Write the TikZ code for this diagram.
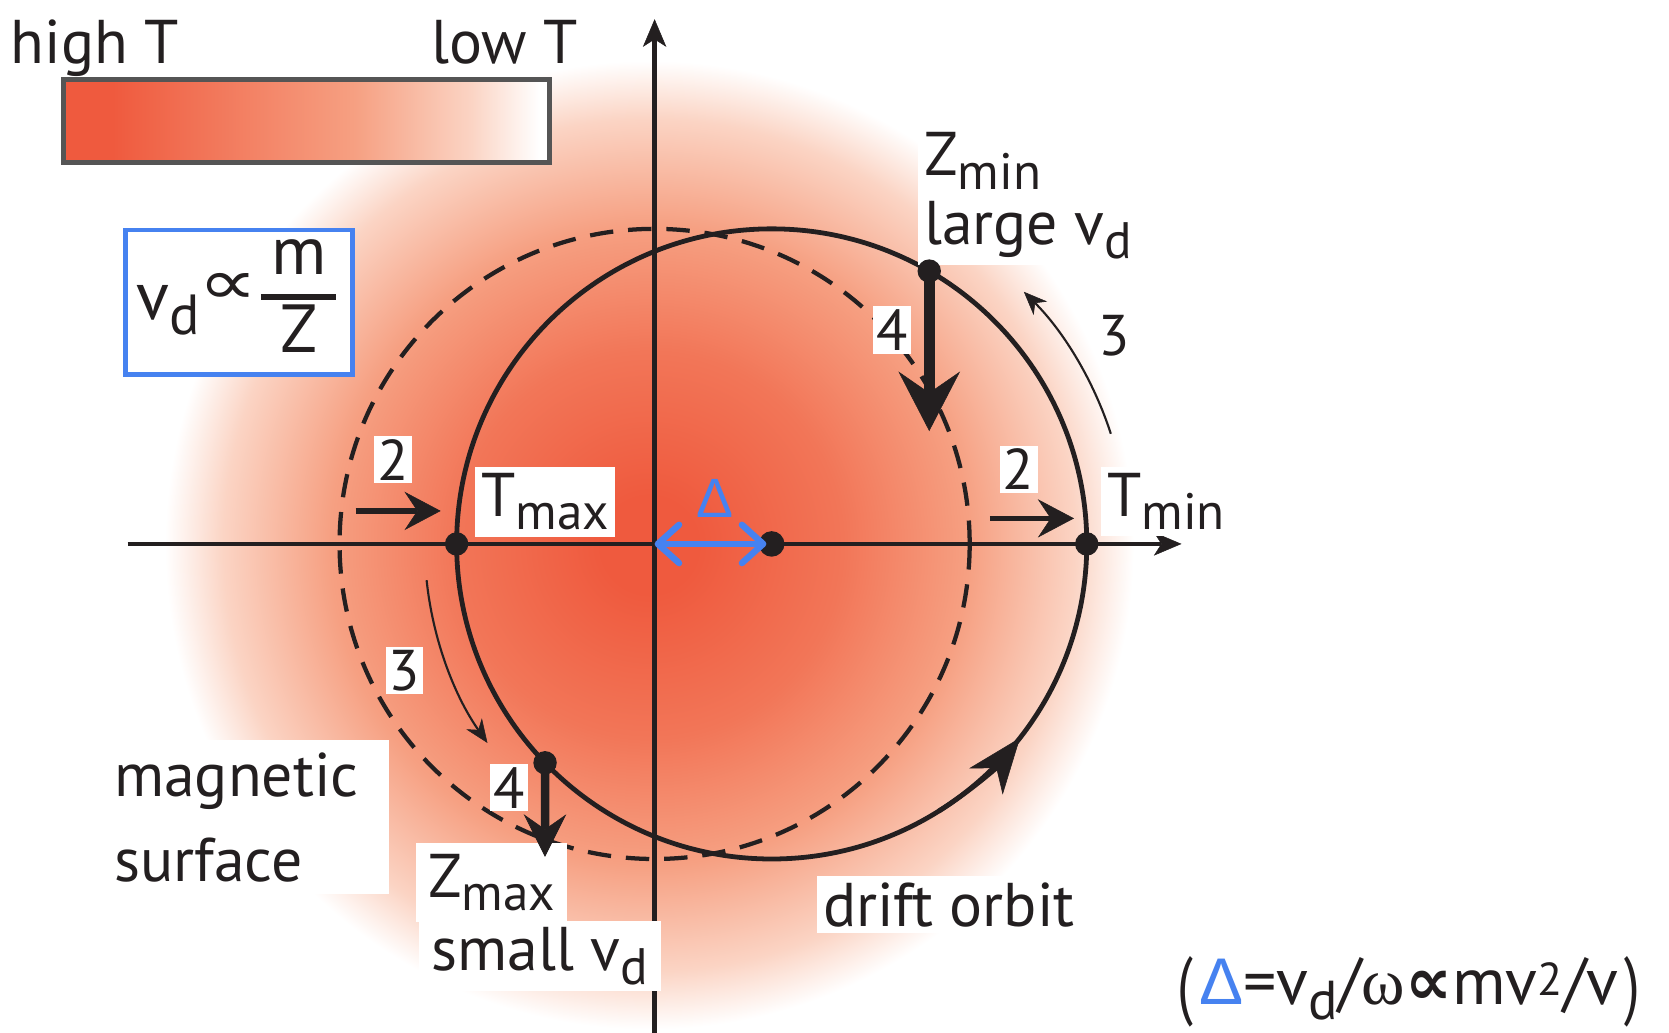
\documentclass[tikz,border=0pt]{standalone}
\usepackage{fontspec}
\usepackage{graphicx}
\setmainfont{PT Sans}
\newfontfamily\dvfont{DejaVu Sans}
\newfontfamily\lsfont{Liberation Sans}
\newfontfamily\lserfont{Liberation Serif}
\usetikzlibrary{arrows.meta}
\definecolor{hot}{RGB}{239,90,62}
\definecolor{hot2}{RGB}{242,118,88}
\definecolor{mid}{RGB}{246,160,130}
\definecolor{pale}{RGB}{251,212,196}
\definecolor{myblue}{RGB}{70,130,240}
\definecolor{barframe}{RGB}{85,85,85}
\definecolor{ink}{RGB}{35,31,32}
\pgfdeclareradialshading{heat}{\pgfpoint{0bp}{0bp}}{color(0bp)=(hot); color(2.5bp)=(hot); color(10bp)=(hot2); color(16.5bp)=(mid); color(22bp)=(pale); color(25bp)=(white); color(50bp)=(white)}
\pgfdeclarehorizontalshading{barshade}{100bp}{color(0bp)=(hot); color(25bp)=(hot); color(30bp)=(hot); color(55bp)=(mid); color(67bp)=(pale); color(74bp)=(white); color(100bp)=(white)}
\newcommand\lo[1]{\raisebox{-0.22em}{\scalebox{0.83}{#1}}}
\newcommand\tallparen[1]{\raisebox{-0.08em}{\scalebox{0.85}[1.15]{#1}}}
\begin{document}
\begin{tikzpicture}[x=1pt,y=-1pt,
  lab/.style={font=\fontsize{58}{64}\selectfont, text=ink, inner sep=0pt},
  boxed/.style={lab, fill=white, inner xsep=6pt, inner ysep=6pt},
  num/.style={font=\fontsize{54}{60}\selectfont, text=ink, fill=white, inner xsep=3pt, inner ysep=3pt},
  axisline/.style={draw=ink, line width=4pt, -{Stealth[length=26pt,width=22pt,inset=7pt,line width=0.5pt]}},
  orbitline/.style={draw=ink, line width=4.5pt},
  surfline/.style={draw=ink, line width=4pt, dash pattern=on 22pt off 14pt},
  blackdot/.style={circle, fill=ink, inner sep=0pt, minimum size=22pt},
  pusharrow/.style={draw=ink, line width=5pt, -{Stealth[length=34pt,width=36pt,inset=12pt,line width=0.5pt]}},
  droparrow/.style={draw=ink, line width=10pt, -{Stealth[length=56pt,width=58pt,inset=20pt,line width=0.5pt]}},
  droparrowsmall/.style={draw=ink, line width=8pt, -{Stealth[length=40pt,width=40pt,inset=14pt,line width=0.5pt]}},
  arcarrow/.style={draw=ink, line width=2pt, -{Stealth[length=22pt,width=18pt,inset=7pt,line width=0.5pt]}},
  deltaarrow/.style={draw=myblue, line width=6pt, line cap=round, {Straight Barb[round,length=20pt,width=36pt]}-{Straight Barb[round,length=20pt,width=36pt]}}
]
\useasboundingbox (0,0) rectangle (1568,970);
\fill[white] (0,0) rectangle (1568,970);
\coordinate (O) at (615,511);
\coordinate (C) at (725,511);
\shade[shading=heat] (610,512) circle (455pt);

% colour bar
\shade[shading=barshade] (60,75) rectangle (516,153);
\draw[barframe, line width=4.5pt] (60,75) rectangle (516,153);
\node[lab, anchor=base west] (hightl) at (10,60) {high T};
\node[lab, anchor=base east] (lowtl) at (543,60) {low T};

% v_d box
\node[draw=myblue, line width=4.5pt, fill=white, minimum width=213pt, minimum height=136pt, inner sep=0pt] (vdbox) at (224.5,284) {};
\node[font=\fontsize{64}{70}\selectfont, text=ink, inner sep=0pt, anchor=base west] (vdv) at (128,300) {v\lo{d}};
\node[text=ink, inner sep=0pt] (prop) at (214,271) {\dvfont\fontsize{60}{64}\selectfont\scalebox{1.3}[1.0]{∝}};
\node[font=\fontsize{64}{70}\selectfont, text=ink, inner sep=0pt, anchor=base] (fm) at (281,258) {m};
\node[font=\fontsize{64}{70}\selectfont, text=ink, inner sep=0pt, anchor=base] (fz) at (281,331) {Z};
\draw[ink, line width=5pt] (245,279) -- (316,279);

% axes
\coordinate (xl) at (120,511);
\coordinate (xr) at (1110,511);
\coordinate (yb) at (615,972);
\coordinate (yt) at (615,18);
\draw[axisline] (xl) -- (xr);
\draw[axisline] (yb) -- (yt);

% circles
\draw[surfline] (O) circle (296pt);
\draw[orbitline] (C) circle (296pt);
\draw[orbitline, -{Stealth[length=52pt,width=40pt,inset=16pt,line width=0.5pt]}] ([shift={(-58:296pt)}]C) arc[start angle=-58, end angle=-38, radius=296pt];

% labels
\node[boxed, anchor=base west] (tmaxl) at (446,485) {T\lo{max}};
\node[boxed, anchor=base west] (tminl) at (1034,485) {T\lo{min}};
\node[boxed, anchor=base west] (zminl) at (862,165) {Z\lo{min}};
\node[boxed, anchor=base west] (largel) at (862,230) {large v\lo{d}};
\node[boxed, anchor=base west, inner xsep=11pt, inner ysep=10pt] (zmaxl) at (391,843) {Z\lo{max}};
\node[boxed, anchor=base west, inner xsep=12pt] (smalll) at (393,912) {small v\lo{d}};
\node[boxed, anchor=base west] (driftl) at (767,870) {drift orbit};
\node[boxed, anchor=north west, align=left, font=\fontsize{58}{80}\selectfont, text width=254pt, minimum height=145pt, inner xsep=4pt] (magl) at (103,695) {magnetic\\surface};
\node[num] (n2a) at (369,432) {2};
\node[num] (n2b) at (957,441) {2};
\node[num] (n3a) at (380,630) {3};
\node[num, fill=none] (n3b) at (1047,315) {3};
\node[num] (n4a) at (838,310) {4};
\node[num] (n4b) at (478,740) {4};
\node[lab, anchor=base west, font=\fontsize{62}{66}\selectfont] (form) at (1106,944) {\tallparen{(}\hspace{6pt}{\lsfont\color{myblue}Δ}=v\lo{d}/{\lserfont ω}{\dvfont\bfseries ∝}mv\textsuperscript{2}/v\hspace{6pt}\tallparen{)}};

% dots
\node[blackdot] (tmaxdot) at ([shift={(180:296pt)}]C) {};
\node[blackdot] (tmindot) at ([shift={(0:296pt)}]C) {};
\node[blackdot] (zmindot) at ([shift={(60:296pt)}]C) {};
\node[blackdot] (zmaxdot) at ([shift={(224:296pt)}]C) {};
\node[blackdot, minimum size=24pt] (cdot) at (C) {};

% arrows
\draw[deltaarrow] (O) -- ([xshift=-5pt]cdot.center);
\node[font=\lsfont\fontsize{52}{56}\selectfont, text=myblue, inner sep=0pt] (dlt) at (672,468) {Δ};
\coordinate (p2a) at (334,480);
\coordinate (p2b) at (414,480);
\draw[pusharrow] (p2a) -- (p2b);
\coordinate (p2c) at (930,487);
\coordinate (p2d) at (1009,487);
\draw[pusharrow] (p2c) -- (p2d);
\coordinate (d4a) at (873,405);
\draw[droparrow] (zmindot.center) -- (d4a);
\coordinate (d4b) at (512,805);
\draw[droparrowsmall] (zmaxdot.center) -- (d4b);
\draw[arcarrow] ([shift={(186:326pt)}]C) arc[start angle=186, end angle=215, radius=326pt];
\draw[arcarrow] ([shift={(18:335pt)}]C) arc[start angle=18, end angle=45, radius=335pt];
\end{tikzpicture}
\end{document}
